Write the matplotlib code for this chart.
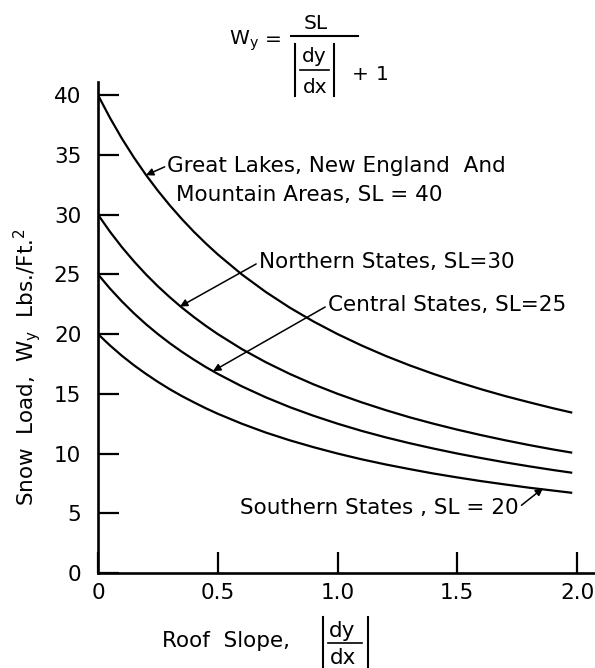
import matplotlib
matplotlib.use("Agg")
import matplotlib.pyplot as plt
from matplotlib.lines import Line2D

# roof slope |dy/dx| and snow load
slope = [0, 0.05, 0.1, 0.15, 0.2, 0.25, 0.3, 0.35, 0.4, 0.45, 0.5,
         0.6, 0.7, 0.8, 0.9, 1.0, 1.1, 1.2, 1.3, 1.4, 1.5, 1.6, 1.7, 1.8, 1.9, 1.98]
load_40 = [40, 38.10, 36.36, 34.78, 33.33, 32.00, 30.77, 29.63, 28.57, 27.59, 26.67,
           25.00, 23.53, 22.22, 21.05, 20.00, 19.05, 18.18, 17.39, 16.67, 16.00,
           15.38, 14.81, 14.29, 13.79, 13.42]
load_30 = [30, 28.57, 27.27, 26.09, 25.00, 24.00, 23.08, 22.22, 21.43, 20.69, 20.00,
           18.75, 17.65, 16.67, 15.79, 15.00, 14.29, 13.64, 13.04, 12.50, 12.00,
           11.54, 11.11, 10.71, 10.34, 10.07]
load_25 = [25, 23.81, 22.73, 21.74, 20.83, 20.00, 19.23, 18.52, 17.86, 17.24, 16.67,
           15.63, 14.71, 13.89, 13.16, 12.50, 11.90, 11.36, 10.87, 10.42, 10.00,
           9.62, 9.26, 8.93, 8.62, 8.39]
load_20 = [20, 19.05, 18.18, 17.39, 16.67, 16.00, 15.38, 14.81, 14.29, 13.79, 13.33,
           12.50, 11.76, 11.11, 10.53, 10.00, 9.52, 9.09, 8.70, 8.33, 8.00,
           7.69, 7.41, 7.14, 6.90, 6.71]

xticks = [0, 0.5, 1.0, 1.5, 2.0]
xticklabels = ["0", "0.5", "1.0", "1.5", "2.0"]
yticks = [0, 5, 10, 15, 20, 25, 30, 35, 40]

plt.rcParams['font.family'] = ['DejaVu Sans']
plt.rcParams['mathtext.fontset'] = 'dejavusans'
plt.rcParams['mathtext.default'] = 'regular'

W, H = 595, 668
fig = plt.figure(figsize=(W / 100, H / 100), dpi=100)
ax = fig.add_axes([98 / W, 95 / H, 497 / W, 491 / H])


def ftext(px, py, s, **kw):
    # place text by pixel position measured from the top left
    fig.text(px / W, 1 - py / H, s, **kw)


def fline(x0, y0, x1, y1, lw=1.5):
    fig.add_artist(Line2D([x0 / W, x1 / W], [1 - y0 / H, 1 - y1 / H],
                          transform=fig.transFigure, color='k', lw=lw))


for ys in (load_40, load_30, load_25, load_20):
    ax.plot(slope, ys, color='k', lw=1.6, solid_capstyle='butt')

ax.set_xlim(0, 2.075)
ax.set_ylim(0, 41.1)
ax.spines['top'].set_visible(False)
ax.spines['right'].set_visible(False)
ax.spines['left'].set_linewidth(1.9)
ax.spines['bottom'].set_linewidth(1.9)
ax.set_xticks(xticks)
ax.set_xticklabels(xticklabels)
ax.set_yticks(yticks)
ax.tick_params(direction='in', length=15, width=1.6, labelsize=15.5)
ax.tick_params(axis='y', pad=12)
ax.tick_params(axis='x', pad=7)

fs = 15.5
left = dict(arrowstyle='-|>', lw=1.1, color='k', mutation_scale=11,
            shrinkA=0, shrinkB=0, relpos=(0, 0.5))
right = dict(left, relpos=(1, 0.55))
ax.annotate("Great Lakes, New England  And", xy=(0.2, 33.3), xytext=(0.29, 34.1),
            fontsize=fs, va='center', ha='left', arrowprops=left)
ax.text(0.326, 31.6, "Mountain Areas, SL = 40", fontsize=fs, va='center', ha='left')
ax.annotate("Northern States, SL=30", xy=(0.342, 22.3), xytext=(0.672, 26.0),
            fontsize=fs, va='center', ha='left', arrowprops=left)
ax.annotate("Central States, SL=25", xy=(0.48, 16.9), xytext=(0.96, 22.4),
            fontsize=fs, va='center', ha='left', arrowprops=left)
ax.annotate("Southern States , SL = 20", xy=(1.858, 7.1), xytext=(0.593, 5.4),
            fontsize=fs, va='center', ha='left', arrowprops=right)

# formula at the top: W_y = SL / (|dy/dx| + 1)
ffs = 14.5
ftext(229, 45, r'W$_y$', fontsize=ffs, ha='left', va='baseline')
ftext(273, 39, '=', fontsize=ffs, ha='center', va='center')
ftext(316, 29, 'SL', fontsize=ffs, ha='center', va='baseline')
fline(291, 36, 358, 36)
fline(295, 44, 295, 96)
fline(334, 44, 334, 96)
ftext(314, 62, 'dy', fontsize=ffs, ha='center', va='baseline')
fline(300, 70, 329, 70, lw=1.2)
ftext(315, 93, 'dx', fontsize=ffs, ha='center', va='baseline')
ftext(360, 75, '+', fontsize=ffs, ha='center', va='center')
ftext(382, 74, '1', fontsize=ffs, ha='center', va='center')

# x label: Roof Slope, |dy/dx|
ftext(162, 641, 'Roof  Slope,', fontsize=fs, ha='left', va='center')
fline(323, 617, 323, 668)
fline(368, 617, 368, 668)
ftext(342, 637, 'dy', fontsize=fs, ha='center', va='baseline')
fline(328, 643, 362, 643, lw=1.2)
ftext(343, 664, 'dx', fontsize=fs, ha='center', va='baseline')

ftext(27, 367, r'Snow  Load,  W$_y$  Lbs./Ft.$^2$', fontsize=fs,
      ha='center', va='center', rotation=90)

fig.savefig("out.png", dpi=100)
